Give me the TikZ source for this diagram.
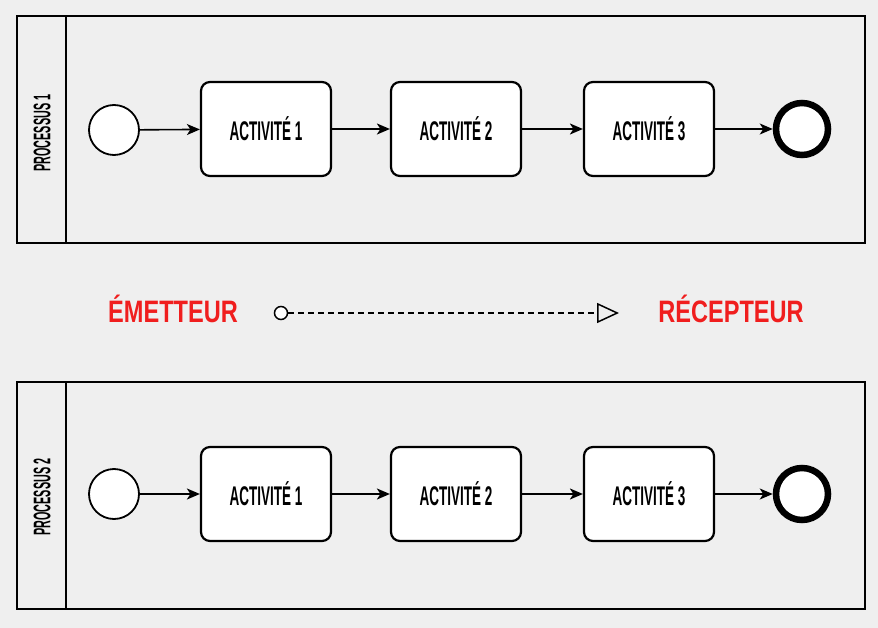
\documentclass[tikz,border=0pt]{standalone}
\usepackage{fontspec}
\setmainfont{Liberation Sans}
\newfontfamily\actfont[FakeStretch=0.5]{Liberation Sans}
\newfontfamily\lanefont[FakeStretch=0.45]{Liberation Sans}
\newfontfamily\titlefont[FakeStretch=0.76]{Liberation Sans}
\usetikzlibrary{arrows.meta}
\definecolor{bg}{HTML}{EFEFEF}
\definecolor{msgred}{HTML}{F01E1E}
\tikzset{
  pool/.style={draw=black, line width=2.2pt, fill=bg},
  activity/.style={draw=black, line width=2.2pt, fill=white, rounded corners=9pt,
    minimum width=130pt, minimum height=94pt, font=\actfont\bfseries\fontsize{27}{29}\selectfont},
  startev/.style={circle, draw=black, line width=1.8pt, fill=white, minimum size=50pt, inner sep=0pt},
  endev/.style={circle, draw=black, line width=6.5pt, fill=white, minimum size=52pt, inner sep=0pt},
  flow/.style={line width=1.6pt, -{Stealth[length=13pt,width=11pt,inset=3.5pt]}},
  lanelabel/.style={rotate=90, font=\lanefont\bfseries\fontsize{24}{26}\selectfont},
  title/.style={text=msgred, font=\titlefont\bfseries\fontsize{31}{33}\selectfont},
  msgsrc/.style={circle, draw=black, line width=1.5pt, fill=white, minimum size=13pt, inner sep=0pt},
  msgflow/.style={line width=1.5pt, dash pattern=on 6pt off 4pt, -{Triangle[open, length=22pt, width=20pt]}}
}
\begin{document}
\begin{tikzpicture}[x=1pt,y=-1pt]
\fill[bg] (0,0) rectangle (878,628);
\useasboundingbox (0,0) rectangle (878,628);
% pools
\foreach \top/\bot in {16/243, 382/609}{
  \draw[pool] (17,\top) rectangle (865,\bot);
  \draw[line width=2.2pt] (66,\top) -- (66,\bot);
}
\node[lanelabel] (l1) at (42,133) {PROCESSUS 1};
\node[lanelabel] (l2) at (42,497) {PROCESSUS 2};
% process 1
\node[startev] (s1) at (114,130) {};
\node[activity] (a11) at (266,129) {ACTIVITÉ 1};
\node[activity] (a12) at (456,129) {ACTIVITÉ 2};
\node[activity] (a13) at (649,129) {ACTIVITÉ 3};
\node[endev] (e1) at (802,129) {};
\draw[flow] (s1) -- (a11);
\draw[flow] (a11) -- (a12);
\draw[flow] (a12) -- (a13);
\draw[flow] (a13) -- (e1);
% process 2
\node[startev] (s2) at (114,494) {};
\node[activity] (a21) at (266,494) {ACTIVITÉ 1};
\node[activity] (a22) at (456,494) {ACTIVITÉ 2};
\node[activity] (a23) at (649,494) {ACTIVITÉ 3};
\node[endev] (e2) at (802,494) {};
\draw[flow] (s2) -- (a21);
\draw[flow] (a21) -- (a22);
\draw[flow] (a22) -- (a23);
\draw[flow] (a23) -- (e2);
% message
\node[title] (em) at (173,309) {ÉMETTEUR};
\node[title] (rc) at (731,309) {RÉCEPTEUR};
\node[msgsrc] (ms) at (281,313) {};
\coordinate (mt) at (619,313);
\draw[msgflow] (ms) -- (mt);
\end{tikzpicture}
\end{document}
